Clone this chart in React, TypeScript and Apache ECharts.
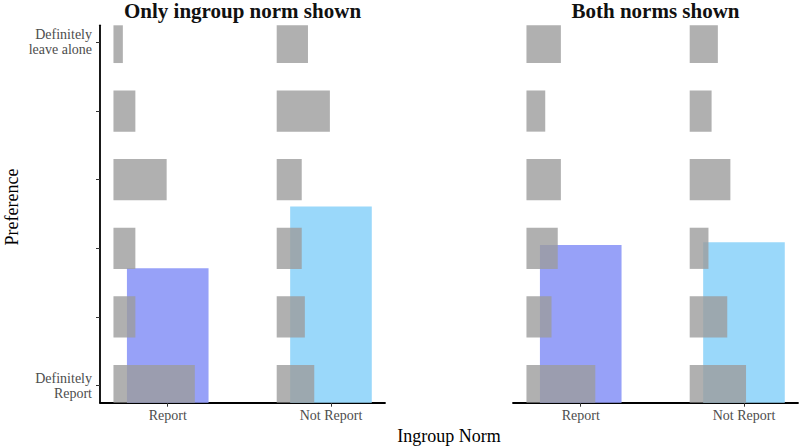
import { useEffect, useRef } from 'react';
import * as echarts from 'echarts';

// ---- data ----
const panelTitles = ['Only ingroup norm shown', 'Both norms shown'];
const normCategories = ['Report', 'Not Report'];
const categoryPositions = [1, 2];
const preferenceLevels = [1, 2, 3, 4, 5, 6];
const levelLabels: Record<number, string> = { 1: 'Definitely\nReport', 6: 'Definitely\nleave alone' };

// mean preference (bar heights) per panel, [Report, Not Report]
const onlyIngroupMeans = [2.71, 3.61];
const bothNormsMeans = [3.05, 3.09];

// response counts per preference level (1..6)
const onlyIngroupReportCounts = [26, 7, 7, 17, 7, 3];
const onlyIngroupNotReportCounts = [12, 9, 8, 8, 17, 10];
const bothNormsReportCounts = [22, 8, 10, 11, 6, 11];
const bothNormsNotReportCounts = [18, 12, 6, 13, 7, 9];

// ---- styling / layout ----
const FONT = '"Liberation Serif", "Times New Roman", serif';
const barColors = ['#97a1f8', '#9ad8fa'];
const greyFill = 'rgba(156,156,156,0.8)';
const Y_MIN = 0.75;
const Y_MAX = 6.25;
const X_MIN = 0.585;
const X_MAX = 2.331;
const BAR_HALF = 0.25;
const HIST_OFFSET = 0.3325;
const COUNT_UNIT = 0.01917;
const HIST_HALF = 0.3;

export default function App() {
  const ref = useRef<HTMLDivElement>(null);

  useEffect(() => {
    document.body.style.margin = '0';
    if (!ref.current) return;
    const chart = echarts.init(ref.current, undefined, { renderer: 'svg' });

    const panelMeans = [onlyIngroupMeans, bothNormsMeans];
    const panelCounts = [
      [onlyIngroupReportCounts, onlyIngroupNotReportCounts],
      [bothNormsReportCounts, bothNormsNotReportCounts],
    ];

    const grids = [
      { left: 100, top: 25.3, width: 285, height: 377.4 },
      { left: 513, top: 25.3, width: 285, height: 377.4 },
    ];

    const xAxes = grids.map((_, i) => ({
      type: 'value',
      gridIndex: i,
      min: X_MIN,
      max: X_MAX,
      splitLine: { show: false },
      axisLine: { show: true, lineStyle: { color: '#000', width: 1.8 } },
      axisTick: {
        show: true,
        customValues: categoryPositions,
        length: 4,
        lineStyle: { color: '#333', width: 1 },
      },
      axisLabel: {
        customValues: categoryPositions,
        formatter: (v: number) => normCategories[categoryPositions.indexOf(v)] ?? '',
        color: '#4d4d4d',
        fontSize: 14,
        fontFamily: FONT,
        margin: 6,
      },
    }));

    const yAxes = [
      {
        type: 'value',
        gridIndex: 0,
        min: Y_MIN,
        max: Y_MAX,
        splitLine: { show: false },
        axisLine: { show: true, onZero: false, lineStyle: { color: '#000', width: 1.8 } },
        axisTick: {
          show: true,
          customValues: preferenceLevels,
          length: 4,
          lineStyle: { color: '#333', width: 1 },
        },
        axisLabel: {
          customValues: [1, 6],
          formatter: (v: number) => levelLabels[v] ?? '',
          color: '#4d4d4d',
          fontSize: 14,
          lineHeight: 15,
          fontFamily: FONT,
          margin: 8,
          align: 'right',
        },
      },
      {
        type: 'value',
        gridIndex: 1,
        min: Y_MIN,
        max: Y_MAX,
        show: false,
        splitLine: { show: false },
      },
    ];

    const series: any[] = [];
    [0, 1].forEach((p) => {
      // mean bars
      series.push({
        type: 'custom',
        xAxisIndex: p,
        yAxisIndex: p,
        data: categoryPositions.map((c, i) => [c, panelMeans[p][i], i]),
        renderItem: (params: any, api: any) => {
          const x = api.value(0);
          const v = api.value(1);
          const idx = api.value(2);
          const a = api.coord([x - BAR_HALF, v]);
          const b = api.coord([x + BAR_HALF, Y_MIN]);
          const rect = echarts.graphic.clipRectByRect(
            { x: a[0], y: a[1], width: b[0] - a[0], height: b[1] - a[1] },
            params.coordSys
          );
          if (!rect) return null;
          return { type: 'rect', shape: rect, style: { fill: barColors[idx] } };
        },
        silent: true,
        z: 2,
      });
      // histogram bars
      const histData: number[][] = [];
      categoryPositions.forEach((c, ci) => {
        preferenceLevels.forEach((lv, li) => {
          histData.push([c, lv, panelCounts[p][ci][li]]);
        });
      });
      series.push({
        type: 'custom',
        xAxisIndex: p,
        yAxisIndex: p,
        data: histData,
        renderItem: (params: any, api: any) => {
          const c = api.value(0);
          const lv = api.value(1);
          const n = api.value(2);
          const x0 = c - HIST_OFFSET;
          const a = api.coord([x0, lv + HIST_HALF]);
          const b = api.coord([x0 + n * COUNT_UNIT, lv - HIST_HALF]);
          const rect = echarts.graphic.clipRectByRect(
            { x: a[0], y: a[1], width: b[0] - a[0], height: b[1] - a[1] },
            params.coordSys
          );
          if (!rect) return null;
          return { type: 'rect', shape: rect, style: { fill: greyFill } };
        },
        silent: true,
        z: 3,
      });
    });

    const graphic: any[] = [
      ...panelTitles.map((t, i) => ({
        type: 'text',
        x: grids[i].left + grids[i].width / 2,
        y: 11,
        style: {
          text: t,
          align: 'center',
          verticalAlign: 'middle',
          fontSize: 21,
          fontWeight: 'bold',
          fontFamily: FONT,
          fill: '#111',
        },
      })),
      {
        type: 'text',
        x: 12,
        y: 207,
        rotation: Math.PI / 2,
        style: {
          text: 'Preference',
          align: 'center',
          verticalAlign: 'middle',
          fontSize: 18,
          fontFamily: FONT,
          fill: '#000',
        },
      },
      {
        type: 'text',
        x: 449,
        y: 436,
        style: {
          text: 'Ingroup Norm',
          align: 'center',
          verticalAlign: 'middle',
          fontSize: 18,
          fontFamily: FONT,
          fill: '#000',
        },
      },
    ];

    chart.setOption({
      animation: false,
      backgroundColor: '#fff',
      grid: grids,
      xAxis: xAxes,
      yAxis: yAxes,
      series,
      graphic,
    });

    return () => chart.dispose();
  }, []);

  return <div ref={ref} style={{ width: 800, height: 447 }} />;
}
